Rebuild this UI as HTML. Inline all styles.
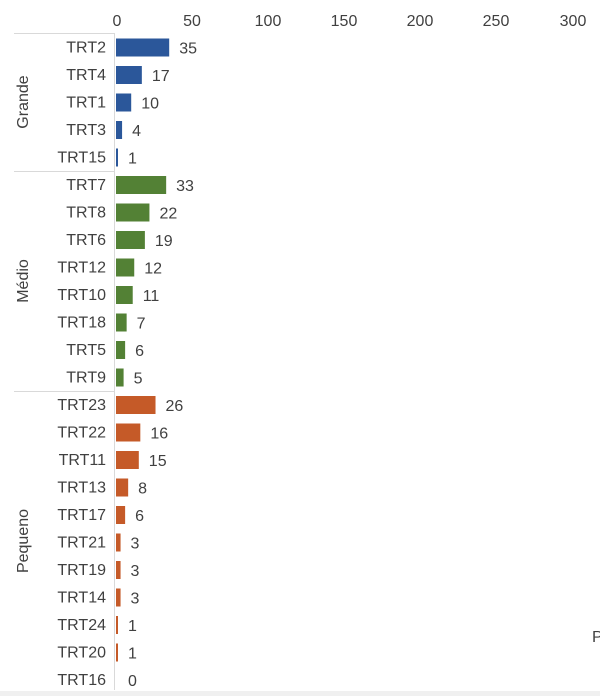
<!DOCTYPE html>
<html><head><meta charset="utf-8"><style>
html,body{margin:0;padding:0;background:#fff;width:600px;height:696px;overflow:hidden}
svg text{font-family:"Liberation Sans",sans-serif;font-size:16px;fill:#404040}
</style></head><body>
<svg width="600" height="696" xmlns="http://www.w3.org/2000/svg">
<g text-anchor="middle">
<text x="117" y="26">0</text><text x="192" y="26">50</text><text x="268" y="26">100</text><text x="344" y="26">150</text><text x="420" y="26">200</text><text x="496" y="26">250</text><text x="573" y="26">300</text>
</g>
<line x1="114.5" y1="33" x2="114.5" y2="690" stroke="#d9d9d9"/>
<line x1="14" y1="33.5" x2="114" y2="33.5" stroke="#d9d9d9"/>
<line x1="14" y1="171.5" x2="114" y2="171.5" stroke="#d9d9d9"/>
<line x1="14" y1="391.5" x2="114" y2="391.5" stroke="#d9d9d9"/>
<rect x="0" y="691" width="600" height="5" fill="#f0f0f0"/>
<text transform="translate(28,102) rotate(-90)" text-anchor="middle">Grande</text>
<text transform="translate(28,281) rotate(-90)" text-anchor="middle">Médio</text>
<text transform="translate(28,541) rotate(-90)" text-anchor="middle">Pequeno</text>
<text x="592" y="642">P</text>
<g id="g"></g>
</svg>
<script>
var d=[["TRT2",35,0],["TRT4",17,0],["TRT1",10,0],["TRT3",4,0],["TRT15",1,0],
["TRT7",33,1],["TRT8",22,1],["TRT6",19,1],["TRT12",12,1],["TRT10",11,1],["TRT18",7,1],["TRT5",6,1],["TRT9",5,1],
["TRT23",26,2],["TRT22",16,2],["TRT11",15,2],["TRT13",8,2],["TRT17",6,2],["TRT21",3,2],["TRT19",3,2],["TRT14",3,2],["TRT24",1,2],["TRT20",1,2],["TRT16",0,2]];
var c=["#2B579A","#538135","#C55A28"];var s="";
d.forEach(function(r,i){var cy=47.5+i*27.5;var w=r[1]*1.52;
s+='<text x="106" y="'+(cy+5)+'" text-anchor="end">'+r[0]+'</text>';
if(w>0)s+='<rect x="116" y="'+(cy-9)+'" width="'+Math.max(w,2)+'" height="18" fill="'+c[r[2]]+'"/>';
s+='<text x="'+(116+Math.max(w,2)+10)+'" y="'+(cy+6)+'">'+r[1]+'</text>';});
document.getElementById("g").innerHTML=s;
</script>
</body></html>
